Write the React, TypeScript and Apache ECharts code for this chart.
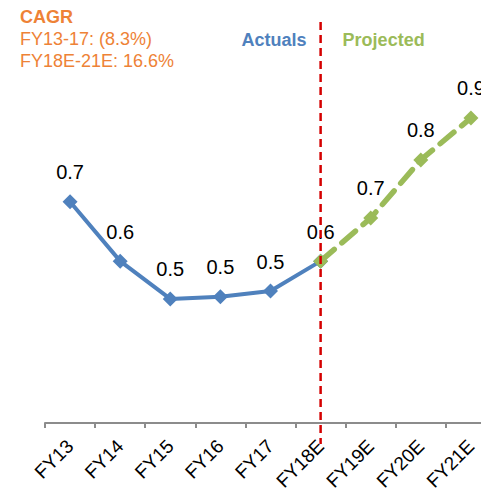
import React, { useEffect, useRef } from "react";
import * as echarts from "echarts";

const categories = ["FY13", "FY14", "FY15", "FY16", "FY17", "FY18E", "FY19E", "FY20E", "FY21E"];
const actualValues = [0.733, 0.59, 0.499, 0.504, 0.518, 0.59, null, null, null];
const projectedValues = [null, null, null, null, null, 0.59, 0.694, 0.834, 0.935];
const cagrTitle = "CAGR";
const cagrLines = ["FY13-17: (8.3%)", "FY18E-21E: 16.6%"];
const splitCategory = "FY18E";

const FONT = "'Liberation Sans', Arial, Helvetica, sans-serif";
const BLUE = "#4F81BD";
const GREEN = "#9BBB59";
const ORANGE = "#EE8236";
const RED = "#D40000";

export default function App() {
  const ref = useRef<HTMLDivElement>(null);
  useEffect(() => {
    document.body.style.margin = "0";
    if (!ref.current) return;
    const chart = echarts.init(ref.current, undefined, { renderer: "svg" });
    const labelBase = {
      show: true,
      position: "top" as const,
      distance: 12,
      color: "#000",
      fontSize: 20,
      fontFamily: FONT,
      formatter: (p: any) => (p.value == null ? "" : Number(p.value).toFixed(1)),
    };
    chart.setOption({
      animation: false,
      grid: { left: 45, top: 91, bottom: 72, width: 451, containLabel: false, outerBoundsMode: "none" },
      xAxis: {
        type: "category",
        data: categories,
        boundaryGap: true,
        axisLine: { lineStyle: { color: "#8C8C8C", width: 2 } },
        axisTick: { show: true, length: 5, lineStyle: { color: "#8C8C8C", width: 2 } },
        axisLabel: { rotate: 45, color: "#000", fontSize: 19, fontFamily: FONT, margin: 20, interval: 0 },
        splitLine: { show: false },
      },
      yAxis: {
        type: "value",
        min: 0.2,
        max: 1.0,
        show: false,
        splitLine: { show: false },
      },
      series: [
        {
          type: "line",
          data: actualValues,
          symbol: "diamond",
          symbolSize: 15,
          itemStyle: { color: BLUE },
          lineStyle: { color: BLUE, width: 4 },
          label: labelBase,
          z: 2,
        },
        {
          type: "line",
          data: projectedValues.map((v, i) =>
            categories[i] === splitCategory ? { value: v, label: { show: false } } : v
          ),
          symbol: "diamond",
          symbolSize: 15,
          itemStyle: { color: GREEN },
          lineStyle: { color: GREEN, width: 5.5, type: [18, 10], cap: "round" },
          label: labelBase,
          z: 3,
        },
      ],
    });
    const x = chart.convertToPixel({ xAxisIndex: 0 }, splitCategory) as number;
    chart.setOption({
      graphic: [
        {
          type: "line",
          shape: { x1: x, y1: 22, x2: x, y2: 444 },
          style: { stroke: RED, lineWidth: 2.5, lineDash: [8, 5] },
          z: 10,
        },
        {
          type: "text",
          x: x - 14,
          y: 40,
          style: { text: "Actuals", fill: BLUE, font: `bold 18px ${FONT}`, textAlign: "right", textVerticalAlign: "middle" },
        },
        {
          type: "text",
          x: x + 22,
          y: 40,
          style: { text: "Projected", fill: GREEN, font: `bold 18px ${FONT}`, textAlign: "left", textVerticalAlign: "middle" },
        },
        {
          type: "text",
          x: 20,
          y: 17,
          style: { text: cagrTitle, fill: ORANGE, font: `bold 18px ${FONT}`, textVerticalAlign: "middle" },
        },
        ...cagrLines.map((t, i) => ({
          type: "text",
          x: 20,
          y: 39 + i * 22,
          style: { text: t, fill: ORANGE, font: `18px ${FONT}`, textVerticalAlign: "middle" },
        })),
      ],
    });
    return () => chart.dispose();
  }, []);
  return <div ref={ref} style={{ width: 481, height: 495 }} />;
}
